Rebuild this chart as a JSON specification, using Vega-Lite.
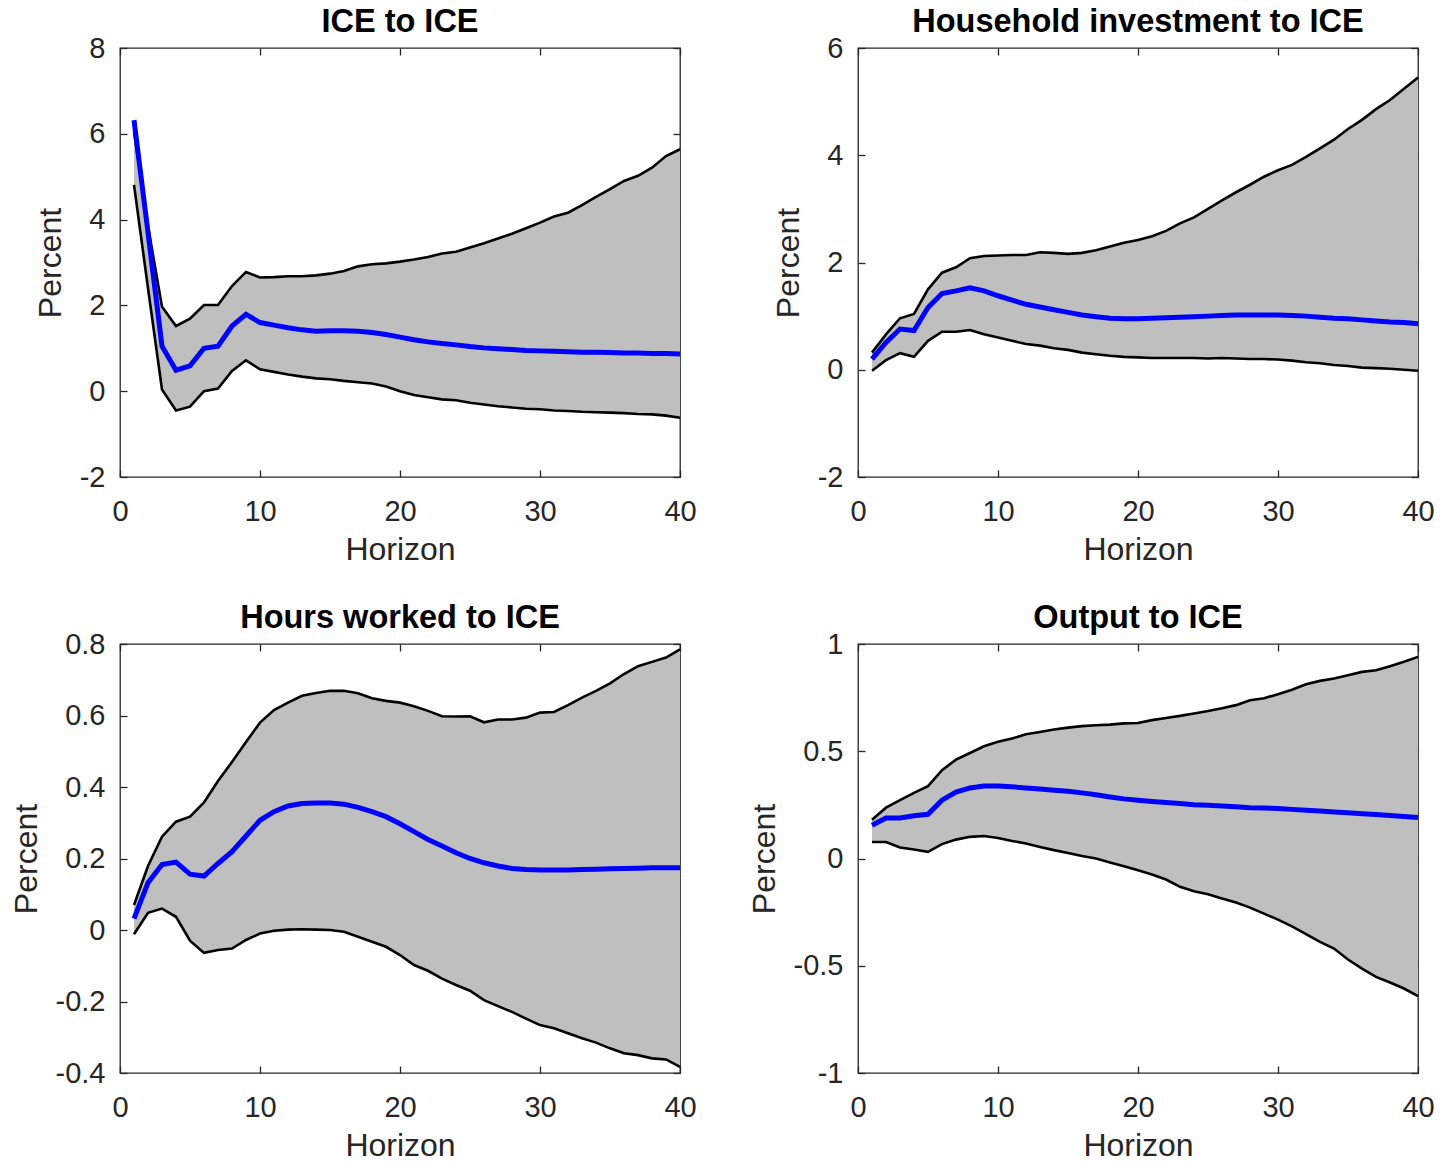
{
  "$schema": "https://vega.github.io/schema/vega-lite/v6.json",
  "padding": {"left": 9, "top": 4, "right": 0, "bottom": 0},
  "bounds": "flush",
  "columns": 2,
  "spacing": {"row": 167, "column": 178},
  "datasets": {
    "irf": [
      {"p": "ice", "h": 1, "lo": 4.81, "hi": 6.05, "m": 6.32},
      {"p": "ice", "h": 2, "lo": 2.4, "hi": 3.85, "m": 3.7},
      {"p": "ice", "h": 3, "lo": 0.04, "hi": 1.97, "m": 1.05},
      {"p": "ice", "h": 4, "lo": -0.45, "hi": 1.52, "m": 0.49},
      {"p": "ice", "h": 5, "lo": -0.36, "hi": 1.69, "m": 0.59},
      {"p": "ice", "h": 6, "lo": 0.0, "hi": 2.01, "m": 1.0},
      {"p": "ice", "h": 7, "lo": 0.06, "hi": 2.01, "m": 1.05},
      {"p": "ice", "h": 8, "lo": 0.47, "hi": 2.45, "m": 1.52},
      {"p": "ice", "h": 9, "lo": 0.72, "hi": 2.78, "m": 1.79},
      {"p": "ice", "h": 10, "lo": 0.51, "hi": 2.65, "m": 1.6},
      {"p": "ice", "h": 11, "lo": 0.45, "hi": 2.66, "m": 1.54},
      {"p": "ice", "h": 12, "lo": 0.39, "hi": 2.68, "m": 1.48},
      {"p": "ice", "h": 13, "lo": 0.34, "hi": 2.68, "m": 1.43},
      {"p": "ice", "h": 14, "lo": 0.3, "hi": 2.7, "m": 1.4},
      {"p": "ice", "h": 15, "lo": 0.28, "hi": 2.74, "m": 1.41},
      {"p": "ice", "h": 16, "lo": 0.24, "hi": 2.8, "m": 1.41},
      {"p": "ice", "h": 17, "lo": 0.21, "hi": 2.91, "m": 1.4},
      {"p": "ice", "h": 18, "lo": 0.18, "hi": 2.96, "m": 1.37},
      {"p": "ice", "h": 19, "lo": 0.11, "hi": 2.98, "m": 1.32},
      {"p": "ice", "h": 20, "lo": 0.0, "hi": 3.02, "m": 1.26},
      {"p": "ice", "h": 21, "lo": -0.09, "hi": 3.07, "m": 1.2},
      {"p": "ice", "h": 22, "lo": -0.14, "hi": 3.13, "m": 1.15},
      {"p": "ice", "h": 23, "lo": -0.19, "hi": 3.21, "m": 1.11},
      {"p": "ice", "h": 24, "lo": -0.21, "hi": 3.25, "m": 1.08},
      {"p": "ice", "h": 25, "lo": -0.27, "hi": 3.35, "m": 1.04},
      {"p": "ice", "h": 26, "lo": -0.31, "hi": 3.45, "m": 1.01},
      {"p": "ice", "h": 27, "lo": -0.35, "hi": 3.56, "m": 0.99},
      {"p": "ice", "h": 28, "lo": -0.38, "hi": 3.67, "m": 0.97},
      {"p": "ice", "h": 29, "lo": -0.41, "hi": 3.8, "m": 0.95},
      {"p": "ice", "h": 30, "lo": -0.42, "hi": 3.93, "m": 0.94},
      {"p": "ice", "h": 31, "lo": -0.45, "hi": 4.07, "m": 0.93},
      {"p": "ice", "h": 32, "lo": -0.46, "hi": 4.16, "m": 0.92},
      {"p": "ice", "h": 33, "lo": -0.48, "hi": 4.34, "m": 0.91},
      {"p": "ice", "h": 34, "lo": -0.49, "hi": 4.53, "m": 0.91},
      {"p": "ice", "h": 35, "lo": -0.5, "hi": 4.71, "m": 0.9},
      {"p": "ice", "h": 36, "lo": -0.51, "hi": 4.9, "m": 0.89},
      {"p": "ice", "h": 37, "lo": -0.53, "hi": 5.02, "m": 0.89},
      {"p": "ice", "h": 38, "lo": -0.54, "hi": 5.21, "m": 0.88},
      {"p": "ice", "h": 39, "lo": -0.57, "hi": 5.48, "m": 0.88},
      {"p": "ice", "h": 40, "lo": -0.62, "hi": 5.64, "m": 0.87},
      {"p": "hhi", "h": 1, "lo": -0.02, "hi": 0.32, "m": 0.2},
      {"p": "hhi", "h": 2, "lo": 0.18, "hi": 0.66, "m": 0.51},
      {"p": "hhi", "h": 3, "lo": 0.31, "hi": 0.96, "m": 0.76},
      {"p": "hhi", "h": 4, "lo": 0.24, "hi": 1.04, "m": 0.73},
      {"p": "hhi", "h": 5, "lo": 0.54, "hi": 1.5, "m": 1.16},
      {"p": "hhi", "h": 6, "lo": 0.71, "hi": 1.81, "m": 1.42},
      {"p": "hhi", "h": 7, "lo": 0.71, "hi": 1.91, "m": 1.47},
      {"p": "hhi", "h": 8, "lo": 0.74, "hi": 2.08, "m": 1.53},
      {"p": "hhi", "h": 9, "lo": 0.66, "hi": 2.12, "m": 1.47},
      {"p": "hhi", "h": 10, "lo": 0.6, "hi": 2.13, "m": 1.38},
      {"p": "hhi", "h": 11, "lo": 0.54, "hi": 2.14, "m": 1.3},
      {"p": "hhi", "h": 12, "lo": 0.48, "hi": 2.14, "m": 1.22},
      {"p": "hhi", "h": 13, "lo": 0.45, "hi": 2.19, "m": 1.17},
      {"p": "hhi", "h": 14, "lo": 0.4, "hi": 2.18, "m": 1.12},
      {"p": "hhi", "h": 15, "lo": 0.37, "hi": 2.16, "m": 1.07},
      {"p": "hhi", "h": 16, "lo": 0.32, "hi": 2.18, "m": 1.02},
      {"p": "hhi", "h": 17, "lo": 0.29, "hi": 2.23, "m": 0.99},
      {"p": "hhi", "h": 18, "lo": 0.26, "hi": 2.3, "m": 0.96},
      {"p": "hhi", "h": 19, "lo": 0.24, "hi": 2.37, "m": 0.95},
      {"p": "hhi", "h": 20, "lo": 0.23, "hi": 2.42, "m": 0.95},
      {"p": "hhi", "h": 21, "lo": 0.22, "hi": 2.49, "m": 0.96},
      {"p": "hhi", "h": 22, "lo": 0.22, "hi": 2.59, "m": 0.97},
      {"p": "hhi", "h": 23, "lo": 0.22, "hi": 2.73, "m": 0.98},
      {"p": "hhi", "h": 24, "lo": 0.22, "hi": 2.84, "m": 0.99},
      {"p": "hhi", "h": 25, "lo": 0.21, "hi": 3.0, "m": 1.0},
      {"p": "hhi", "h": 26, "lo": 0.22, "hi": 3.16, "m": 1.01},
      {"p": "hhi", "h": 27, "lo": 0.21, "hi": 3.31, "m": 1.02},
      {"p": "hhi", "h": 28, "lo": 0.2, "hi": 3.45, "m": 1.02},
      {"p": "hhi", "h": 29, "lo": 0.2, "hi": 3.6, "m": 1.02},
      {"p": "hhi", "h": 30, "lo": 0.19, "hi": 3.72, "m": 1.02},
      {"p": "hhi", "h": 31, "lo": 0.17, "hi": 3.82, "m": 1.01},
      {"p": "hhi", "h": 32, "lo": 0.14, "hi": 3.97, "m": 1.0},
      {"p": "hhi", "h": 33, "lo": 0.12, "hi": 4.13, "m": 0.98},
      {"p": "hhi", "h": 34, "lo": 0.09, "hi": 4.29, "m": 0.96},
      {"p": "hhi", "h": 35, "lo": 0.07, "hi": 4.49, "m": 0.95},
      {"p": "hhi", "h": 36, "lo": 0.04, "hi": 4.66, "m": 0.93},
      {"p": "hhi", "h": 37, "lo": 0.03, "hi": 4.86, "m": 0.91},
      {"p": "hhi", "h": 38, "lo": 0.02, "hi": 5.03, "m": 0.89},
      {"p": "hhi", "h": 39, "lo": 0.0, "hi": 5.24, "m": 0.88},
      {"p": "hhi", "h": 40, "lo": -0.02, "hi": 5.45, "m": 0.86},
      {"p": "hrs", "h": 1, "lo": -0.012, "hi": 0.07, "m": 0.032},
      {"p": "hrs", "h": 2, "lo": 0.048, "hi": 0.179, "m": 0.132},
      {"p": "hrs", "h": 3, "lo": 0.06, "hi": 0.261, "m": 0.183},
      {"p": "hrs", "h": 4, "lo": 0.037, "hi": 0.303, "m": 0.19},
      {"p": "hrs", "h": 5, "lo": -0.03, "hi": 0.317, "m": 0.156},
      {"p": "hrs", "h": 6, "lo": -0.064, "hi": 0.357, "m": 0.151},
      {"p": "hrs", "h": 7, "lo": -0.056, "hi": 0.417, "m": 0.186},
      {"p": "hrs", "h": 8, "lo": -0.052, "hi": 0.47, "m": 0.219},
      {"p": "hrs", "h": 9, "lo": -0.028, "hi": 0.526, "m": 0.263},
      {"p": "hrs", "h": 10, "lo": -0.01, "hi": 0.58, "m": 0.307},
      {"p": "hrs", "h": 11, "lo": -0.002, "hi": 0.615, "m": 0.331},
      {"p": "hrs", "h": 12, "lo": 0.001, "hi": 0.636, "m": 0.347},
      {"p": "hrs", "h": 13, "lo": 0.002, "hi": 0.655, "m": 0.354},
      {"p": "hrs", "h": 14, "lo": 0.001, "hi": 0.663, "m": 0.355},
      {"p": "hrs", "h": 15, "lo": 0.0, "hi": 0.669, "m": 0.355},
      {"p": "hrs", "h": 16, "lo": -0.005, "hi": 0.669, "m": 0.352},
      {"p": "hrs", "h": 17, "lo": -0.019, "hi": 0.662, "m": 0.343},
      {"p": "hrs", "h": 18, "lo": -0.033, "hi": 0.648, "m": 0.331},
      {"p": "hrs", "h": 19, "lo": -0.047, "hi": 0.641, "m": 0.317},
      {"p": "hrs", "h": 20, "lo": -0.07, "hi": 0.636, "m": 0.297},
      {"p": "hrs", "h": 21, "lo": -0.098, "hi": 0.626, "m": 0.275},
      {"p": "hrs", "h": 22, "lo": -0.114, "hi": 0.613, "m": 0.253},
      {"p": "hrs", "h": 23, "lo": -0.136, "hi": 0.598, "m": 0.235},
      {"p": "hrs", "h": 24, "lo": -0.154, "hi": 0.597, "m": 0.216},
      {"p": "hrs", "h": 25, "lo": -0.17, "hi": 0.598, "m": 0.2},
      {"p": "hrs", "h": 26, "lo": -0.196, "hi": 0.581, "m": 0.188},
      {"p": "hrs", "h": 27, "lo": -0.213, "hi": 0.589, "m": 0.179},
      {"p": "hrs", "h": 28, "lo": -0.229, "hi": 0.589, "m": 0.172},
      {"p": "hrs", "h": 29, "lo": -0.248, "hi": 0.594, "m": 0.169},
      {"p": "hrs", "h": 30, "lo": -0.266, "hi": 0.608, "m": 0.168},
      {"p": "hrs", "h": 31, "lo": -0.275, "hi": 0.61, "m": 0.168},
      {"p": "hrs", "h": 32, "lo": -0.289, "hi": 0.629, "m": 0.168},
      {"p": "hrs", "h": 33, "lo": -0.303, "hi": 0.65, "m": 0.169},
      {"p": "hrs", "h": 34, "lo": -0.315, "hi": 0.669, "m": 0.17},
      {"p": "hrs", "h": 35, "lo": -0.331, "hi": 0.69, "m": 0.171},
      {"p": "hrs", "h": 36, "lo": -0.345, "hi": 0.716, "m": 0.172},
      {"p": "hrs", "h": 37, "lo": -0.35, "hi": 0.738, "m": 0.173},
      {"p": "hrs", "h": 38, "lo": -0.359, "hi": 0.75, "m": 0.174},
      {"p": "hrs", "h": 39, "lo": -0.362, "hi": 0.762, "m": 0.174},
      {"p": "hrs", "h": 40, "lo": -0.383, "hi": 0.785, "m": 0.174},
      {"p": "out", "h": 1, "lo": 0.077, "hi": 0.181, "m": 0.155},
      {"p": "out", "h": 2, "lo": 0.077, "hi": 0.237, "m": 0.189},
      {"p": "out", "h": 3, "lo": 0.051, "hi": 0.272, "m": 0.189},
      {"p": "out", "h": 4, "lo": 0.042, "hi": 0.306, "m": 0.199},
      {"p": "out", "h": 5, "lo": 0.031, "hi": 0.337, "m": 0.206},
      {"p": "out", "h": 6, "lo": 0.067, "hi": 0.412, "m": 0.272},
      {"p": "out", "h": 7, "lo": 0.088, "hi": 0.461, "m": 0.31},
      {"p": "out", "h": 8, "lo": 0.101, "hi": 0.492, "m": 0.329},
      {"p": "out", "h": 9, "lo": 0.105, "hi": 0.523, "m": 0.338},
      {"p": "out", "h": 10, "lo": 0.096, "hi": 0.544, "m": 0.338},
      {"p": "out", "h": 11, "lo": 0.082, "hi": 0.559, "m": 0.334},
      {"p": "out", "h": 12, "lo": 0.07, "hi": 0.579, "m": 0.329},
      {"p": "out", "h": 13, "lo": 0.054, "hi": 0.59, "m": 0.324},
      {"p": "out", "h": 14, "lo": 0.039, "hi": 0.601, "m": 0.318},
      {"p": "out", "h": 15, "lo": 0.026, "hi": 0.61, "m": 0.313},
      {"p": "out", "h": 16, "lo": 0.012, "hi": 0.617, "m": 0.306},
      {"p": "out", "h": 17, "lo": 0.0, "hi": 0.621, "m": 0.297},
      {"p": "out", "h": 18, "lo": -0.019, "hi": 0.624, "m": 0.287},
      {"p": "out", "h": 19, "lo": -0.036, "hi": 0.63, "m": 0.278},
      {"p": "out", "h": 20, "lo": -0.055, "hi": 0.632, "m": 0.272},
      {"p": "out", "h": 21, "lo": -0.075, "hi": 0.645, "m": 0.266},
      {"p": "out", "h": 22, "lo": -0.098, "hi": 0.655, "m": 0.261},
      {"p": "out", "h": 23, "lo": -0.132, "hi": 0.665, "m": 0.256},
      {"p": "out", "h": 24, "lo": -0.153, "hi": 0.676, "m": 0.251},
      {"p": "out", "h": 25, "lo": -0.167, "hi": 0.688, "m": 0.248},
      {"p": "out", "h": 26, "lo": -0.187, "hi": 0.7, "m": 0.245},
      {"p": "out", "h": 27, "lo": -0.205, "hi": 0.715, "m": 0.241},
      {"p": "out", "h": 28, "lo": -0.229, "hi": 0.738, "m": 0.237},
      {"p": "out", "h": 29, "lo": -0.257, "hi": 0.747, "m": 0.235},
      {"p": "out", "h": 30, "lo": -0.285, "hi": 0.766, "m": 0.233},
      {"p": "out", "h": 31, "lo": -0.316, "hi": 0.787, "m": 0.229},
      {"p": "out", "h": 32, "lo": -0.353, "hi": 0.812, "m": 0.225},
      {"p": "out", "h": 33, "lo": -0.389, "hi": 0.828, "m": 0.221},
      {"p": "out", "h": 34, "lo": -0.42, "hi": 0.839, "m": 0.217},
      {"p": "out", "h": 35, "lo": -0.471, "hi": 0.854, "m": 0.213},
      {"p": "out", "h": 36, "lo": -0.513, "hi": 0.87, "m": 0.209},
      {"p": "out", "h": 37, "lo": -0.552, "hi": 0.878, "m": 0.205},
      {"p": "out", "h": 38, "lo": -0.578, "hi": 0.896, "m": 0.2},
      {"p": "out", "h": 39, "lo": -0.606, "hi": 0.917, "m": 0.196},
      {"p": "out", "h": 40, "lo": -0.642, "hi": 0.94, "m": 0.191}
    ]
  },
  "data": {"name": "irf"},
  "config": {
    "font": "Liberation Sans",
    "view": {"stroke": "#262626", "strokeWidth": 1.3},
    "axis": {
      "grid": false,
      "domain": false,
      "tickSize": -7,
      "tickColor": "#262626",
      "tickWidth": 1.3,
      "labelFont": "Liberation Sans",
      "labelFontSize": 29,
      "labelColor": "#262626",
      "labelOverlap": false,
      "labelExpr": "datum.value < 0 ? '-' + format(-datum.value, '~g') : format(datum.value, '~g')",
      "titleFont": "Liberation Sans",
      "titleFontSize": 32,
      "titleFontWeight": "normal",
      "titleColor": "#262626"
    },
    "axisX": {"labelPadding": 27, "titlePadding": 8, "labelFlush": false},
    "axisY": {"labelPadding": 22, "titlePadding": 12},
    "title": {"font": "Liberation Sans", "fontSize": 32.5, "fontWeight": "bold", "color": "#000000", "offset": -4, "anchor": "middle"}
  },
  "concat": [
    {
      "title": "ICE to ICE",
      "width": 560,
      "height": 429,
      "transform": [{"filter": "datum.p == 'ice'"}],
      "encoding": {"x": {"field": "h", "type": "quantitative", "scale": {"domain": [0, 40], "nice": false}, "axis": null}},
      "layer": [
        {"mark": {"type": "rule", "color": "#000000", "strokeWidth": 1}, "encoding": {"y": {"datum": 0, "type": "quantitative", "scale": {"domain": [-2, 8], "nice": false}, "axis": {"orient": "right", "values": [-2, 0, 2, 4, 6, 8], "labels": false, "title": null}}}},
        {"mark": {"type": "area", "color": "#bfbfbf", "opacity": 1}, "encoding": {"x": {"field": "h", "type": "quantitative", "scale": {"domain": [0, 40], "nice": false}, "axis": {"values": [0, 10, 20, 30, 40], "title": "Horizon"}}, "y": {"field": "lo", "type": "quantitative", "scale": {"domain": [-2, 8], "nice": false}, "axis": {"values": [-2, 0, 2, 4, 6, 8], "title": "Percent"}}, "y2": {"field": "hi"}}},
        {"mark": {"type": "line", "color": "#000000", "strokeWidth": 2.6}, "encoding": {"y": {"field": "hi", "type": "quantitative", "axis": null}}},
        {"mark": {"type": "line", "color": "#000000", "strokeWidth": 2.6}, "encoding": {"y": {"field": "lo", "type": "quantitative", "axis": null}}},
        {"mark": {"type": "line", "color": "#0000ff", "strokeWidth": 5}, "encoding": {"x": {"field": "h", "type": "quantitative", "scale": {"domain": [0, 40], "nice": false}, "axis": {"orient": "top", "values": [0, 10, 20, 30, 40], "labels": false, "labelPadding": 0, "title": null}}, "y": {"field": "m", "type": "quantitative", "axis": null}}}
      ],
      "resolve": {"axis": {"x": "independent", "y": "independent"}}
    },
    {
      "title": "Household investment to ICE",
      "width": 560,
      "height": 429,
      "transform": [{"filter": "datum.p == 'hhi'"}],
      "encoding": {"x": {"field": "h", "type": "quantitative", "scale": {"domain": [0, 40], "nice": false}, "axis": null}},
      "layer": [
        {"mark": {"type": "rule", "color": "#000000", "strokeWidth": 1}, "encoding": {"y": {"datum": 0, "type": "quantitative", "scale": {"domain": [-2, 6], "nice": false}, "axis": {"orient": "right", "values": [-2, 0, 2, 4, 6], "labels": false, "title": null}}}},
        {"mark": {"type": "area", "color": "#bfbfbf", "opacity": 1}, "encoding": {"x": {"field": "h", "type": "quantitative", "scale": {"domain": [0, 40], "nice": false}, "axis": {"values": [0, 10, 20, 30, 40], "title": "Horizon"}}, "y": {"field": "lo", "type": "quantitative", "scale": {"domain": [-2, 6], "nice": false}, "axis": {"values": [-2, 0, 2, 4, 6], "title": "Percent"}}, "y2": {"field": "hi"}}},
        {"mark": {"type": "line", "color": "#000000", "strokeWidth": 2.6}, "encoding": {"y": {"field": "hi", "type": "quantitative", "axis": null}}},
        {"mark": {"type": "line", "color": "#000000", "strokeWidth": 2.6}, "encoding": {"y": {"field": "lo", "type": "quantitative", "axis": null}}},
        {"mark": {"type": "line", "color": "#0000ff", "strokeWidth": 5}, "encoding": {"x": {"field": "h", "type": "quantitative", "scale": {"domain": [0, 40], "nice": false}, "axis": {"orient": "top", "values": [0, 10, 20, 30, 40], "labels": false, "labelPadding": 0, "title": null}}, "y": {"field": "m", "type": "quantitative", "axis": null}}}
      ],
      "resolve": {"axis": {"x": "independent", "y": "independent"}}
    },
    {
      "title": "Hours worked to ICE",
      "width": 560,
      "height": 429,
      "transform": [{"filter": "datum.p == 'hrs'"}],
      "encoding": {"x": {"field": "h", "type": "quantitative", "scale": {"domain": [0, 40], "nice": false}, "axis": null}},
      "layer": [
        {"mark": {"type": "rule", "color": "#000000", "strokeWidth": 1}, "encoding": {"y": {"datum": 0, "type": "quantitative", "scale": {"domain": [-0.4, 0.8], "nice": false}, "axis": {"orient": "right", "values": [-0.4, -0.2, 0, 0.2, 0.4, 0.6, 0.8], "labels": false, "title": null}}}},
        {"mark": {"type": "area", "color": "#bfbfbf", "opacity": 1}, "encoding": {"x": {"field": "h", "type": "quantitative", "scale": {"domain": [0, 40], "nice": false}, "axis": {"values": [0, 10, 20, 30, 40], "title": "Horizon"}}, "y": {"field": "lo", "type": "quantitative", "scale": {"domain": [-0.4, 0.8], "nice": false}, "axis": {"values": [-0.4, -0.2, 0, 0.2, 0.4, 0.6, 0.8], "title": "Percent"}}, "y2": {"field": "hi"}}},
        {"mark": {"type": "line", "color": "#000000", "strokeWidth": 2.6}, "encoding": {"y": {"field": "hi", "type": "quantitative", "axis": null}}},
        {"mark": {"type": "line", "color": "#000000", "strokeWidth": 2.6}, "encoding": {"y": {"field": "lo", "type": "quantitative", "axis": null}}},
        {"mark": {"type": "line", "color": "#0000ff", "strokeWidth": 5}, "encoding": {"x": {"field": "h", "type": "quantitative", "scale": {"domain": [0, 40], "nice": false}, "axis": {"orient": "top", "values": [0, 10, 20, 30, 40], "labels": false, "labelPadding": 0, "title": null}}, "y": {"field": "m", "type": "quantitative", "axis": null}}}
      ],
      "resolve": {"axis": {"x": "independent", "y": "independent"}}
    },
    {
      "title": "Output to ICE",
      "width": 560,
      "height": 429,
      "transform": [{"filter": "datum.p == 'out'"}],
      "encoding": {"x": {"field": "h", "type": "quantitative", "scale": {"domain": [0, 40], "nice": false}, "axis": null}},
      "layer": [
        {"mark": {"type": "rule", "color": "#000000", "strokeWidth": 1}, "encoding": {"y": {"datum": 0, "type": "quantitative", "scale": {"domain": [-1, 1], "nice": false}, "axis": {"orient": "right", "values": [-1, -0.5, 0, 0.5, 1], "labels": false, "title": null}}}},
        {"mark": {"type": "area", "color": "#bfbfbf", "opacity": 1}, "encoding": {"x": {"field": "h", "type": "quantitative", "scale": {"domain": [0, 40], "nice": false}, "axis": {"values": [0, 10, 20, 30, 40], "title": "Horizon"}}, "y": {"field": "lo", "type": "quantitative", "scale": {"domain": [-1, 1], "nice": false}, "axis": {"values": [-1, -0.5, 0, 0.5, 1], "title": "Percent"}}, "y2": {"field": "hi"}}},
        {"mark": {"type": "line", "color": "#000000", "strokeWidth": 2.6}, "encoding": {"y": {"field": "hi", "type": "quantitative", "axis": null}}},
        {"mark": {"type": "line", "color": "#000000", "strokeWidth": 2.6}, "encoding": {"y": {"field": "lo", "type": "quantitative", "axis": null}}},
        {"mark": {"type": "line", "color": "#0000ff", "strokeWidth": 5}, "encoding": {"x": {"field": "h", "type": "quantitative", "scale": {"domain": [0, 40], "nice": false}, "axis": {"orient": "top", "values": [0, 10, 20, 30, 40], "labels": false, "labelPadding": 0, "title": null}}, "y": {"field": "m", "type": "quantitative", "axis": null}}}
      ],
      "resolve": {"axis": {"x": "independent", "y": "independent"}}
    }
  ]
}
